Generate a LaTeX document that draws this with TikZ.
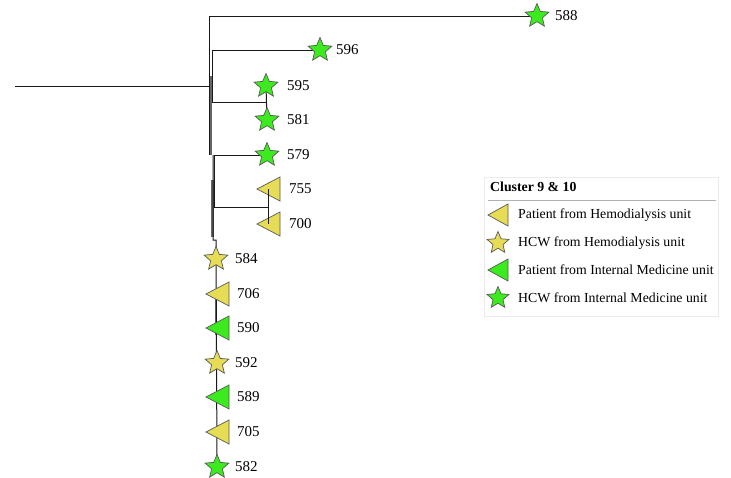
\documentclass[tikz,border=0pt]{standalone}
\usepackage{fontspec}
\setmainfont{Liberation Serif}
\usetikzlibrary{shapes.geometric}
\definecolor{gfill}{RGB}{60,235,30}
\definecolor{yfill}{RGB}{230,220,85}
\begin{document}
\begin{tikzpicture}[x=1pt,y=-1pt,
  br/.style={draw=black!90, line width=1pt},
  sp/.style={draw=black!60, line width=2.2pt},
  starsym/.style={star, star points=5, star point ratio=2.2, minimum size=25pt, inner sep=0pt, draw=black!65, line width=0.7pt},
  gstar/.style={starsym, fill=gfill},
  ystar/.style={starsym, fill=yfill},
  lab/.style={anchor=west, inner sep=0pt, font=\fontsize{15}{18}\selectfont},
  leg/.style={anchor=west, inner sep=0pt, font=\fontsize{13.8}{16}\selectfont},
  trisym/.style={draw=black!65, line width=0.7pt}]
\useasboundingbox (0,0) rectangle (731,477);
% coordinates of tips
\coordinate (root) at (15,86);
\coordinate (n1) at (209,86);
\coordinate (n1t) at (209,16);
\coordinate (n1b) at (209,155);
\coordinate (n2t) at (212,50);
\coordinate (n2b) at (212,102);
\coordinate (n3t) at (214,155);
\coordinate (n3b) at (214,207);
\coordinate (c1) at (266,102);
\coordinate (c2) at (268,207);
\coordinate (t588) at (537,16);
\coordinate (t596) at (320,50);
\coordinate (t595) at (266,86);
\coordinate (t581) at (267,120);
\coordinate (t579) at (267,155);
\coordinate (t755) at (268,189);
\coordinate (t700) at (268,224);
\coordinate (spt) at (213,155);
\coordinate (spm) at (216,240);
\coordinate (t584) at (216,259);
\coordinate (t706) at (216,294);
\coordinate (t590) at (216,328);
\coordinate (t592) at (217,363);
\coordinate (t589) at (216,397);
\coordinate (t705) at (216,432);
\coordinate (t582) at (217,467);
% tree
\draw[sp] (211,76) -- (211,155);
\draw[sp] (212.5,180) -- (212.5,237);
\draw[sp] (216,290) -- (216,335);
\draw[br] (root) -- (n1);
\draw[br] (n1t) -- (n1b);
\draw[br] (n1t) -- (t588);
\draw[br] (n2t) -- (n2b);
\draw[br] (n2t) -- (t596);
\draw[br] (n2b) -- (c1);
\draw[br] (t595) -- (t581);
\draw[br] (n3t) -- (n3b);
\draw[br] (n3t) -- (t579);
\draw[br] (n3b) -- (c2);
\draw[br] (t755) -- (t700);
\draw[br] (spt) -- (213,240) -- (spm) -- (t582);
% symbols
\node[gstar] (s588) at (t588) {};
\node[gstar] (s596) at (t596) {};
\node[gstar] (s595) at (t595) {};
\node[gstar] (s581) at (t581) {};
\node[gstar] (s579) at (t579) {};
\draw[trisym, fill=yfill] (257,189) -- ++(23,-12) -- ++(0,24) -- cycle;
\draw[trisym, fill=yfill] (257,224) -- ++(23,-12) -- ++(0,24) -- cycle;
\draw[br] (t755) -- (t700);
\node[ystar] (s584) at (t584) {};
\draw[trisym, fill=yfill] (206,294) -- ++(23,-12) -- ++(0,24) -- cycle;
\draw[trisym, fill=gfill] (206,328) -- ++(23,-12) -- ++(0,24) -- cycle;
\node[ystar] (s592) at (t592) {};
\draw[trisym, fill=gfill] (206,397) -- ++(23,-12) -- ++(0,24) -- cycle;
\draw[trisym, fill=yfill] (206,432) -- ++(23,-12) -- ++(0,24) -- cycle;
\node[gstar] (s582) at (t582) {};
% labels
\node[lab] (l588) at (555,16) {588};
\node[lab] (l596) at (336,50) {596};
\node[lab] (l595) at (287,86) {595};
\node[lab] (l581) at (287,120) {581};
\node[lab] (l579) at (287,155) {579};
\node[lab] (l755) at (289,189) {755};
\node[lab] (l700) at (289,224) {700};
\node[lab] (l584) at (235,259) {584};
\node[lab] (l706) at (237,294) {706};
\node[lab] (l590) at (237,328) {590};
\node[lab] (l592) at (235,363) {592};
\node[lab] (l589) at (237,397) {589};
\node[lab] (l705) at (237,432) {705};
\node[lab] (l582) at (235,467) {582};
% legend
\draw[draw=black!8, fill=white] (484,177) rectangle (718,316);
\node[leg, font=\fontsize{13.8}{16}\selectfont\bfseries] (ltitle) at (490,187) {Cluster 9 \& 10};
\draw[draw=black!30, line width=1pt] (488,200) -- (716,200);
\draw[trisym, fill=yfill] (488,215) -- ++(20,-11) -- ++(0,22) -- cycle;
\node[ystar, minimum size=23pt] (lg2) at (498,243) {};
\draw[trisym, fill=gfill] (488,270) -- ++(20,-11) -- ++(0,22) -- cycle;
\node[gstar, minimum size=23pt] (lg4) at (498,298) {};
\node[leg] (lt1) at (518,215) {Patient from Hemodialysis unit};
\node[leg] (lt2) at (518,243) {HCW from Hemodialysis unit};
\node[leg] (lt3) at (518,270) {Patient from Internal Medicine unit};
\node[leg] (lt4) at (518,298) {HCW from Internal Medicine unit};
\end{tikzpicture}
\end{document}
